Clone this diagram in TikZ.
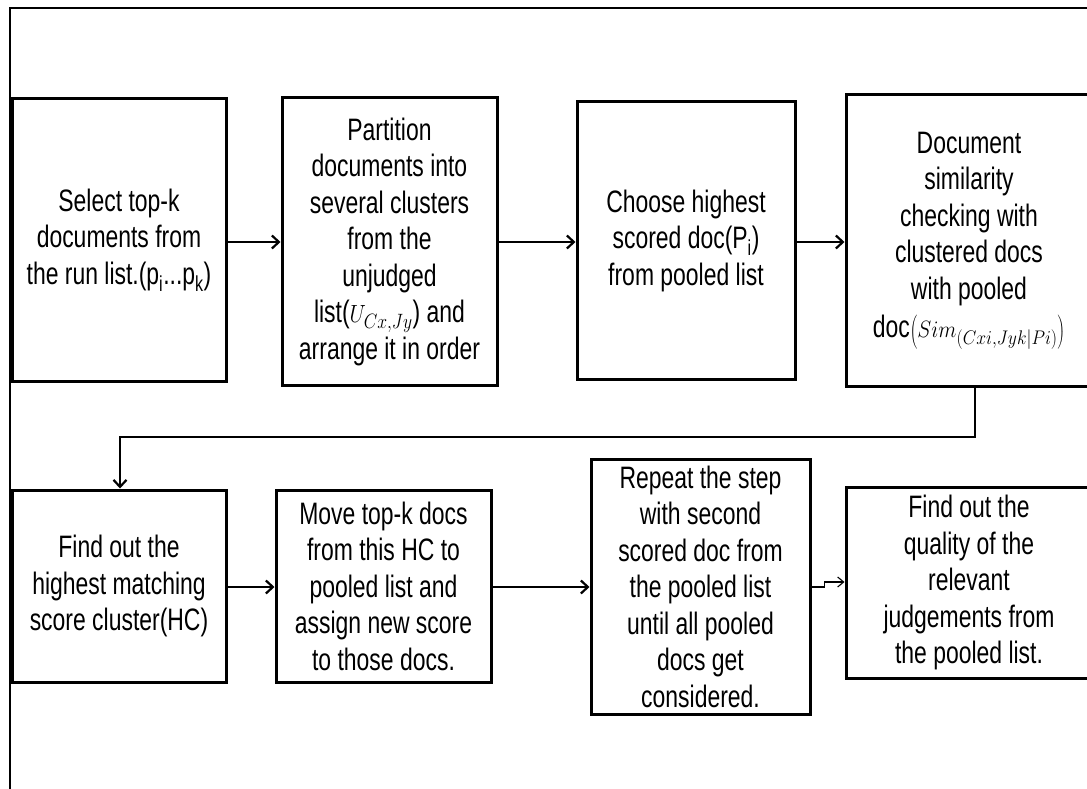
\documentclass[tikz,border=0pt]{standalone}
\usepackage{fontspec}
\setmainfont[FakeStretch=0.74]{Liberation Sans}
\usetikzlibrary{arrows.meta}
\begin{document}
\begin{tikzpicture}[x=1pt,y=-1pt,
  stepbox/.style={draw=black, line width=3pt, rectangle, inner sep=0pt,
    align=center, font=\fontsize{31}{36.5}\selectfont},
  flow/.style={draw=black, line width=2.8pt,
    -{Straight Barb[length=7pt,width=13pt,line width=2.2pt]}},
  thinflow/.style={draw=black, line width=1.1pt,
    -{Straight Barb[length=6pt,width=10pt,line width=1.1pt]}},
  frameline/.style={draw=black, line width=2.2pt}]
\useasboundingbox (0,0) rectangle (1087,789);
\clip (0,0) rectangle (1087,789);

% outer frame (top and left edges)
\draw[frameline] (10,820) -- (10,8) -- (1120,8);

% reference heights for the connectors
\coordinate (r1) at (0,242);
\coordinate (r2) at (0,587);
\coordinate (r2b) at (0,582);
\coordinate (loopy) at (0,437);
\coordinate (drop) at (975,0);
\coordinate (land) at (120,0);

% first row
\node[stepbox, minimum width=214pt, minimum height=282pt] (b1) at (119,240)
  {Select top-k\\documents from\\the run list.(p\textsubscript{i}...p\textsubscript{k})};
\node[stepbox, minimum width=215pt, minimum height=287pt] (b2) at (389.5,241.5)
  {Partition\\documents into\\several clusters\\from the\\unjudged\\list(\scalebox{0.85}[1.0]{$U_{Cx,Jy}$}) and\\arrange it in order};
\node[stepbox, minimum width=218pt, minimum height=277pt] (b3) at (686,240.5)
  {Choose highest\\scored doc(P\textsubscript{i})\\from pooled list};
\node[stepbox, minimum width=246pt, minimum height=291pt] (b4) at (969,240.5)
  {Document\\similarity\\checking with\\clustered docs\\with pooled\\[2pt]doc\scalebox{0.85}[0.95]{$\left(Sim_{(Cxi,Jyk|Pi)}\right)$}};

% second row
\node[stepbox, minimum width=214pt, minimum height=192pt] (b5) at (119,586)
  {Find out the\\highest matching\\score cluster(HC)};
\node[stepbox, minimum width=215pt, minimum height=192pt] (b6) at (383.5,586)
  {Move top-k docs\\from this HC to\\pooled list and\\assign new score\\to those docs.};
\node[stepbox, minimum width=219pt, minimum height=255pt] (b7) at (700.5,586.5)
  {Repeat the step\\with second\\scored doc from\\the pooled list\\until all pooled\\docs get\\considered.};
\node[stepbox, minimum width=246pt, minimum height=191pt] (b8) at (969,582.5)
  {Find out the\\quality of the\\relevant\\judgements from\\the pooled list.};

% connectors
\draw[flow] (b1.east |- r1) -- (b2.west |- r1);
\draw[flow] (b2.east |- r1) -- (b3.west |- r1);
\draw[flow] (b3.east |- r1) -- (b4.west |- r1);
\draw[flow] (b4.south -| drop) |- (loopy -| land) -- (b5.north -| land);
\draw[flow] (b5.east |- r2) -- (b6.west |- r2);
\draw[flow] (b6.east |- r2) -- (b7.west |- r2);
\draw[thinflow] (b7.east |- r2) -- ++(13,0) -- ++(0,-5) -- (b8.west |- r2b);
\end{tikzpicture}
\end{document}
